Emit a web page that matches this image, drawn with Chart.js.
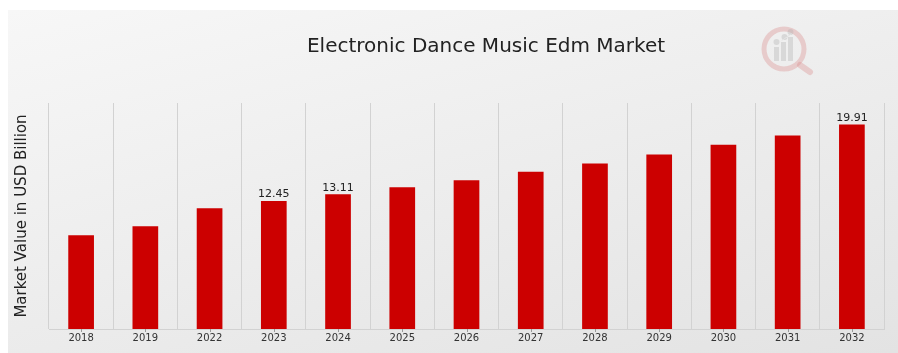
<!DOCTYPE html>
<html>
<head>
<meta charset="utf-8">
<script src="https://cdn.jsdelivr.net/npm/chart.js@4/dist/chart.umd.min.js"></script>
<style>
    html, body { margin: 0; padding: 0; background: #ffffff; }
    #bg {
        position: absolute; left: 8px; top: 10px; width: 890px; height: 343px;
        background: linear-gradient(165deg, #f7f7f7 0%, #ececec 55%, #e3e3e3 100%);
    }
    #wrap { position: absolute; left: 0; top: 0; width: 898px; height: 353px; }
</style>
</head>
<body>
<div id="bg"></div>
<div id="wrap"><canvas id="marketChart"></canvas></div>
<script>
const years = ['2018', '2019', '2022', '2023', '2024', '2025', '2026', '2027', '2028', '2029', '2030', '2031', '2032'];
const marketValues = [9.13, 10.0, 11.75, 12.45, 13.11, 13.79, 14.47, 15.3, 16.12, 16.99, 17.93, 18.83, 19.91];
const valueLabels = ['', '', '', '12.45', '13.11', '', '', '', '', '', '', '', '19.91'];

const chartTitle = 'Electronic Dance Music Edm Market';
const yAxisTitle = 'Market Value in USD Billion';

// title sits right of centre in the original, so draw it ourselves
const titleText = {
    id: 'titleText',
    afterDraw(chart) {
        const ctx = chart.ctx;
        ctx.save();
        ctx.font = '20px "DejaVu Sans"';
        ctx.fillStyle = '#222222';
        ctx.textAlign = 'center';
        ctx.textBaseline = 'alphabetic';
        ctx.fillText(chartTitle, 486, 52);
        ctx.restore();
    }
};

// value labels above selected bars
const barLabels = {
    id: 'barLabels',
    afterDatasetsDraw(chart) {
        const ctx = chart.ctx;
        const meta = chart.getDatasetMeta(0);
        ctx.save();
        ctx.font = '11px "DejaVu Sans"';
        ctx.fillStyle = '#222222';
        ctx.textAlign = 'center';
        ctx.textBaseline = 'bottom';
        meta.data.forEach((bar, i) => {
            if (valueLabels[i]) {
                ctx.fillText(valueLabels[i], bar.x, bar.y - 1);
            }
        });
        ctx.restore();
    }
};

// small tick marks under each bar centre
const centerTicks = {
    id: 'centerTicks',
    afterDraw(chart) {
        const ctx = chart.ctx;
        const xScale = chart.scales.x;
        const bottom = chart.chartArea.bottom;
        ctx.save();
        ctx.strokeStyle = '#9a9a9a';
        ctx.lineWidth = 1;
        years.forEach((y, i) => {
            const px = Math.round(xScale.getPixelForTick(i)) + 0.5;
            ctx.beginPath();
            ctx.moveTo(px, bottom);
            ctx.lineTo(px, bottom + 3);
            ctx.stroke();
        });
        ctx.restore();
    }
};

// faint logo in the top right corner
const logoMark = {
    id: 'logoMark',
    afterDraw(chart) {
        const ctx = chart.ctx;
        const cx = 784, cy = 49, r = 20;
        ctx.save();
        ctx.globalAlpha = 0.35;
        ctx.strokeStyle = '#d98a8a';
        ctx.lineWidth = 5;
        ctx.beginPath();
        ctx.arc(cx, cy, r, 0, Math.PI * 2);
        ctx.stroke();
        ctx.lineCap = 'round';
        ctx.lineWidth = 6;
        ctx.beginPath();
        ctx.moveTo(cx + 16, cy + 16);
        ctx.lineTo(cx + 26, cy + 23);
        ctx.stroke();
        ctx.fillStyle = '#b0b0b0';
        ctx.fillRect(cx - 10, cy - 2, 5, 14);
        ctx.fillRect(cx - 3, cy - 7, 5, 19);
        ctx.fillRect(cx + 4, cy - 12, 5, 24);
        ctx.beginPath();
        ctx.arc(cx - 7.5, cy - 7, 3, 0, Math.PI * 2);
        ctx.arc(cx + 0.5, cy - 12, 3, 0, Math.PI * 2);
        ctx.arc(cx + 6.5, cy - 17, 3, 0, Math.PI * 2);
        ctx.fill();
        ctx.restore();
    }
};

const ctx = document.getElementById('marketChart').getContext('2d');
new Chart(ctx, {
    type: 'bar',
    data: {
        labels: years,
        datasets: [{
            label: yAxisTitle,
            data: marketValues,
            backgroundColor: '#cc0000',
            borderWidth: 0,
            barPercentage: 0.8,
            categoryPercentage: 0.5
        }]
    },
    options: {
        responsive: true,
        maintainAspectRatio: false,
        animation: false,
        layout: {
            padding: { top: 103, right: 14, bottom: 6, left: 0 }
        },
        plugins: {
            legend: { display: false },
            tooltip: { enabled: false },
            title: { display: false }
        },
        scales: {
            x: {
                grid: {
                    display: true,
                    offset: true,
                    drawTicks: false,
                    color: '#d2d2d2',
                    lineWidth: 1
                },
                border: { display: true, color: '#d2d2d2' },
                ticks: {
                    color: '#333333',
                    font: { family: 'DejaVu Sans', size: 10 },
                    padding: 3,
                    maxRotation: 0,
                    autoSkip: false
                }
            },
            y: {
                min: 0,
                max: 22,
                grid: { display: false },
                border: { display: false },
                ticks: { display: false },
                title: {
                    display: true,
                    text: yAxisTitle,
                    color: '#222222',
                    font: { family: 'DejaVu Sans', size: 15, weight: 'normal' },
                    padding: { top: 13, bottom: 10 }
                }
            }
        }
    },
    plugins: [titleText, barLabels, centerTicks, logoMark]
});
</script>
</body>
</html>
